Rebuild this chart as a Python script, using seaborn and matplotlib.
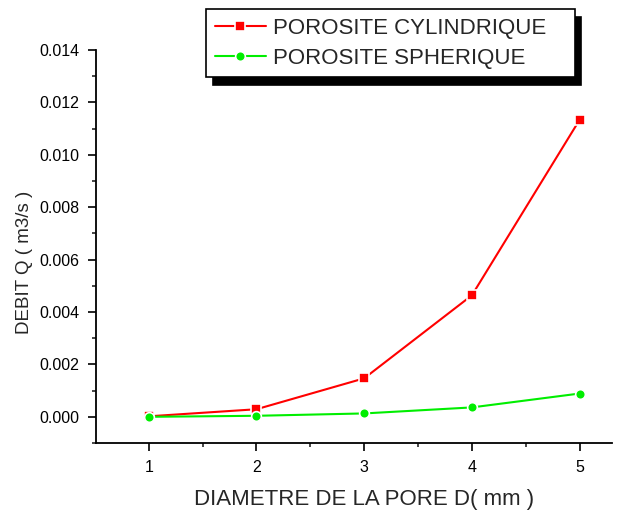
import matplotlib
matplotlib.use("Agg")
import matplotlib.pyplot as plt
from matplotlib.ticker import MultipleLocator, FormatStrFormatter
import seaborn as sns
import pandas as pd

diametre = [1, 2, 3, 4, 5]
q_cylindrique = [0.00002, 0.00029, 0.00147, 0.00464, 0.01134]
q_spherique = [0.000001, 0.00004, 0.00013, 0.00036, 0.00089]
series = ["POROSITE CYLINDRIQUE", "POROSITE SPHERIQUE"]

df = pd.DataFrame({
    "D": diametre * 2,
    "Q": q_cylindrique + q_spherique,
    "serie": [series[0]] * len(diametre) + [series[1]] * len(diametre),
})

sns.set_style("ticks")
plt.rcParams["font.family"] = ["Liberation Sans", "DejaVu Sans"]

fig = plt.figure(figsize=(6.27, 5.11), dpi=100)
ax = fig.add_axes([0.153, 0.133, 0.823, 0.769])

sns.lineplot(
    data=df, x="D", y="Q", hue="serie", style="serie",
    palette={series[0]: "#ff0000", series[1]: "#00ee00"},
    markers={series[0]: "s", series[1]: "o"}, dashes=False,
    markersize=7, markeredgecolor="white", markeredgewidth=1.2,
    linewidth=1.5, ax=ax, legend=True,
)
handles, labels = ax.get_legend_handles_labels()
ax.get_legend().remove()

ax.set_xlim(0.51, 5.3)
ax.set_ylim(-0.001, 0.014)
ax.xaxis.set_major_locator(MultipleLocator(1))
ax.xaxis.set_minor_locator(MultipleLocator(0.5))
ax.yaxis.set_major_locator(MultipleLocator(0.002))
ax.yaxis.set_minor_locator(MultipleLocator(0.001))
ax.yaxis.set_major_formatter(FormatStrFormatter("%.3f"))
ax.tick_params(which="major", length=6, width=1.2, labelsize=11.5,
               colors="black", pad=6)
ax.tick_params(which="minor", length=3, width=1.2)
for s in ("top", "right"):
    ax.spines[s].set_visible(False)
for s in ("left", "bottom"):
    ax.spines[s].set_linewidth(1.3)
    ax.spines[s].set_color("black")

ax.set_xlabel("DIAMETRE DE LA PORE D( mm )", fontsize=16)
ax.set_ylabel("DEBIT Q ( m3/s )", fontsize=13.5)
ax.xaxis.set_label_coords(0.52, -0.117)
ax.yaxis.set_label_coords(-0.122, 0.46)

leg = fig.legend(
    handles, labels, loc="upper left",
    bbox_to_anchor=(0.329, 0.982, 0.588, 0.0), mode="expand",
    borderaxespad=0, fontsize=16, frameon=True, fancybox=False,
    shadow={"color": "black", "alpha": 1, "ox": 4.5, "oy": -5.5},
    borderpad=0.38, handlelength=2.3, handletextpad=0.3, labelspacing=0.4,
)
leg.get_frame().set_edgecolor("black")
leg.get_frame().set_linewidth(1.2)

fig.savefig("out.png", dpi=100)
